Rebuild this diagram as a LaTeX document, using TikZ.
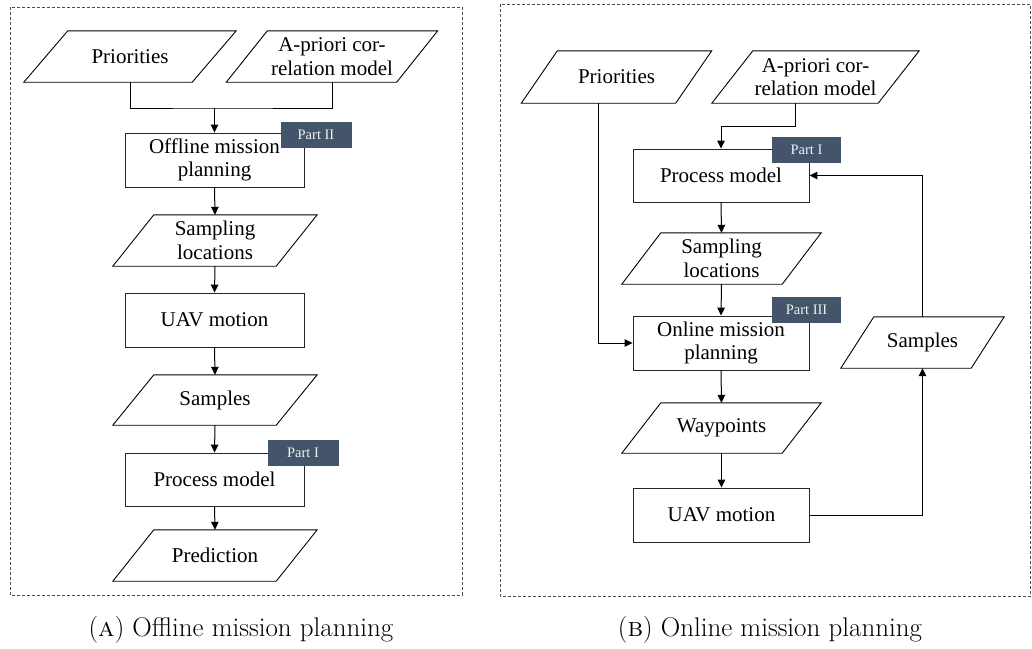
\documentclass[tikz,border=0pt]{standalone}
\usepackage{fontspec}
\newfontfamily\boxfont{Liberation Serif}
\usetikzlibrary{arrows.meta,calc}
\definecolor{tagc}{HTML}{44546A}
\tikzset{
  conn/.style={line width=1pt, black},
  arr/.style={conn, -{Triangle[length=8pt,width=7.5pt]}},
  txt/.style={font=\boxfont\fontsize{21}{23.5}\selectfont, align=center, inner sep=0pt},
  box/.style={txt, draw=black!85, line width=0.9pt, rectangle},
  lbox/.style={box, minimum width=179, minimum height=54},
  rbox/.style={box, minimum width=176, minimum height=54},
  tag/.style={fill=tagc, text=white!88!gray, font=\boxfont\fontsize{14.5}{16}\selectfont, inner sep=0pt, minimum width=71, minimum height=26},
  frame/.style={draw=black!70, line width=0.8pt, dash pattern=on 3pt off 2pt},
  capt/.style={font=\fontsize{27}{30}\selectfont, inner sep=0pt}
}
% name, x, y, width, height, slant, text
\newcommand\pgram[7]{%
  \node[txt, minimum width=#4, minimum height=#5] (#1) at (#2,#3) {#7};
  \draw[conn, line width=0.9pt] ($(#1.south west)+(-#6/2,0)$) -- ($(#1.north west)+(#6/2,0)$)
    -- ($(#1.north east)+(#6/2,0)$) -- ($(#1.south east)+(-#6/2,0)$) -- cycle;
}
\begin{document}
\begin{tikzpicture}[x=1pt,y=-1pt]
\useasboundingbox (0,0) rectangle (1032,648);
% ---------- left panel ----------
\draw[frame] (10,7) rectangle (462,595);
\pgram{lpri}{130}{56.5}{168}{51}{44}{Priorities}
\pgram{lapr}{332}{56.5}{170}{51}{41}{A-priori cor-\\relation model}
\node[lbox] (loff) at (214.5,160) {Offline mission\\planning};
\node[tag] (ltag2) at (316,135) {Part II};
\pgram{lsam}{215}{240.5}{163}{51}{41}{Sampling\\locations}
\node[lbox] (luav) at (214.5,320) {UAV motion};
\pgram{lsmp}{215}{400}{163}{50}{41}{Samples}
\node[lbox, minimum height=53] (lproc) at (214.5,479.5) {Process model};
\node[tag] (ltag1) at (303,453) {Part I};
\pgram{lpred}{215}{555.5}{163}{51}{41}{Prediction}
\coordinate (ljoin) at (214.5,108);
\draw[conn] (lpri.south) |- (ljoin) -| (lapr.south);
\draw[arr] (ljoin) -- (loff.north);
\draw[arr] (loff.south) -- (lsam.north);
\draw[arr] (lsam.south) -- (luav.north);
\draw[arr] (luav.south) -- (lsmp.north);
\draw[arr] (lsmp.south) -- (lproc.north);
\draw[arr] (lproc.south) -- (lpred.north);
\node[capt] (capA) at (241,630) {(\textsc{a}) Offline mission planning};
% ---------- right panel ----------
\draw[frame] (500,4) rectangle (1030.5,596);
\pgram{rpri}{616.5}{77}{154}{52}{36}{Priorities}
\pgram{rapr}{815.5}{77}{166}{52}{41}{A-priori cor-\\relation model}
\node[rbox, minimum height=53] (rproc) at (721,175.5) {Process model};
\node[tag, minimum width=69] (rtag1) at (806.5,150) {Part I};
\pgram{rsam}{721.5}{258.5}{160}{51}{39}{Sampling\\locations}
\node[rbox] (ronl) at (721,343) {Online mission\\planning};
\node[tag, minimum width=69] (rtag3) at (806.5,310) {Part III};
\pgram{rwp}{721.5}{428}{160}{50}{39}{Waypoints}
\node[rbox] (ruav) at (721.5,515) {UAV motion};
\pgram{rsmp}{922.5}{342.5}{130}{51}{33}{Samples}
\coordinate (raj) at (721,126);
\draw[arr] ([xshift=-18.5]rpri.south) |- (ronl.west);
\draw[conn] ([xshift=-20.5]rapr.south) |- (raj);
\draw[arr] (raj) -- (rproc.north);
\draw[arr] (rproc.south) -- (rsam.north);
\draw[arr] (rsam.south) -- (ronl.north);
\draw[arr] (ronl.south) -- (rwp.north);
\draw[arr] (rwp.south) -- (ruav.north);
\draw[arr] (ruav.east) -| (rsmp.south);
\draw[arr] (rsmp.north) |- (rproc.east);
\node[capt] (capB) at (770,630) {(\textsc{b}) Online mission planning};
\end{tikzpicture}
\end{document}
